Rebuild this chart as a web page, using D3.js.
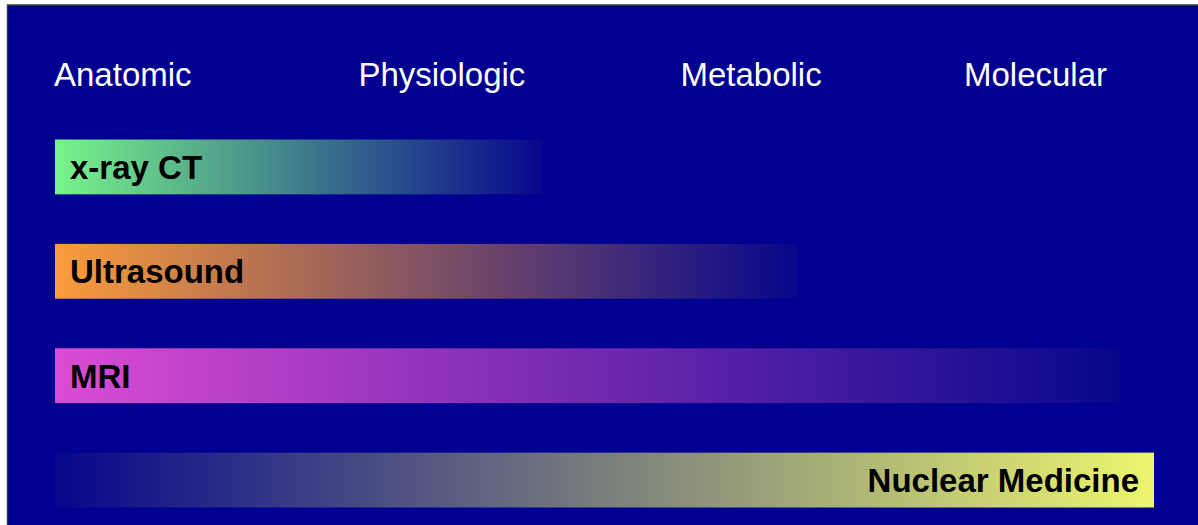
<!DOCTYPE html>
<html>
<head>
<meta charset="utf-8">
<script src="https://cdn.jsdelivr.net/npm/d3@7"></script>
<style>
  html, body { margin: 0; padding: 0; background: #ffffff; }
  svg { display: block; }
</style>
</head>
<body>
<svg id="chart" width="1198" height="525"></svg>
<script>
// Levels of biological information, placed along a 0..1 spectrum
const stages = ["Anatomic", "Physiologic", "Metabolic", "Molecular"];
const stageAt = [0, 0.277, 0.57, 0.828];

// Imaging modalities and the part of the spectrum each one covers
const modalities = ["x-ray CT", "Ultrasound", "MRI", "Nuclear Medicine"];
const spanStart = [0, 0, 0, 0];
const spanEnd = [0.444, 0.676, 0.969, 1];
const strongSide = ["left", "left", "left", "right"];
const modalityColors = ["#78f48a", "#fa9c3a", "#dc4cd4", "#ecf66e"];

const W = 1198, H = 525;
const bg = "#000091";
const fade = "#07078c";

const svg = d3.select("#chart");
const defs = svg.append("defs");

// panel
svg.append("rect")
  .attr("x", 7.5).attr("y", 5)
  .attr("width", W).attr("height", H)
  .attr("fill", bg)
  .attr("stroke", "#3a3a3a").attr("stroke-width", 1.5);

const x = d3.scaleLinear().domain([0, 1]).range([55, 1154]);
const y = d3.scaleBand().domain(modalities).range([139.5, 507.5])
  .paddingInner(0.4745).paddingOuter(0);

// stage headings
svg.append("g").selectAll("text")
  .data(stages)
  .join("text")
  .attr("x", (d, i) => x(stageAt[i]) - 1)
  .attr("y", 86)
  .attr("fill", "#ffffff")
  .attr("font-family", "'Liberation Sans', Arial, Helvetica, sans-serif")
  .attr("font-size", 33)
  .text(d => d);

// gradient per modality, from its colour on the strong side to the panel blue
modalities.forEach((m, i) => {
  const g = defs.append("linearGradient")
    .attr("id", "grad" + i)
    .attr("x1", "0%").attr("x2", "100%").attr("y1", "0%").attr("y2", "0%");
  const left = strongSide[i] === "left" ? modalityColors[i] : fade;
  const right = strongSide[i] === "left" ? fade : modalityColors[i];
  g.append("stop").attr("offset", "0%").attr("stop-color", left);
  g.append("stop").attr("offset", "100%").attr("stop-color", right);
});

const rows = svg.append("g").selectAll("g")
  .data(modalities)
  .join("g");

rows.append("rect")
  .attr("x", (d, i) => x(spanStart[i]))
  .attr("y", d => y(d))
  .attr("width", (d, i) => x(spanEnd[i]) - x(spanStart[i]))
  .attr("height", y.bandwidth())
  .attr("fill", (d, i) => `url(#grad${i})`);

rows.append("text")
  .attr("x", (d, i) => strongSide[i] === "left" ? x(spanStart[i]) + 15 : x(spanEnd[i]) - 15)
  .attr("y", d => y(d) + y.bandwidth() / 2 + 12)
  .attr("text-anchor", (d, i) => strongSide[i] === "left" ? "start" : "end")
  .attr("fill", "#000000")
  .attr("font-family", "'Liberation Sans', Arial, Helvetica, sans-serif")
  .attr("font-weight", "bold")
  .attr("font-size", 33)
  .text(d => d);
</script>
</body>
</html>
